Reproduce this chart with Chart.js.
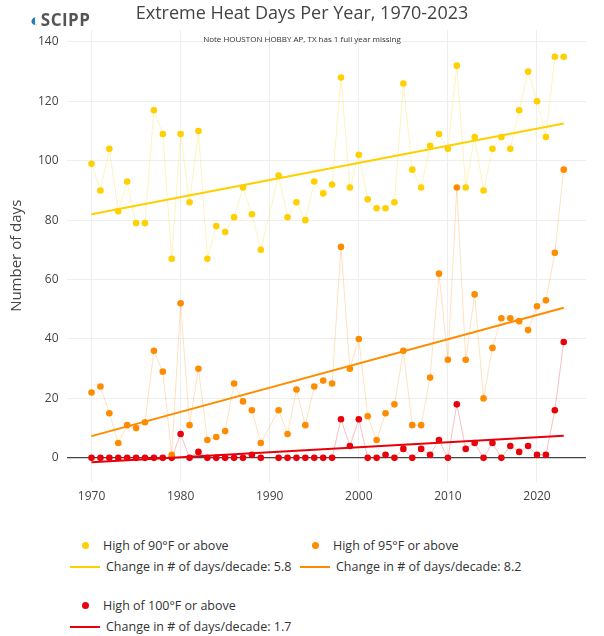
<!DOCTYPE html>
<html>
<head>
<meta charset="utf-8">
<script src="https://cdn.jsdelivr.net/npm/chart.js@4"></script>
<style>
  body { margin: 0; background: #fff; font-family: "Open Sans", sans-serif; }
  #wrap { position: relative; width: 604px; height: 512px; }
  #title { position: absolute; top: 0; left: 0; width: 604px; text-align: center; font-size: 18px; color: #444; }
  #note { position: absolute; top: 33px; left: 0; width: 604px; text-align: center; font-size: 8px; color: #333; }
  #logo { position: absolute; top: 8px; left: 30px; font-weight: bold; font-size: 17px; color: #555; letter-spacing: 0.5px; }
  #logo span { color: #2a7ab8; }
  .legend { position: absolute; font-size: 12.5px; color: #333; }
  .row { position: absolute; display: flex; align-items: center; white-space: nowrap; }
  .dot { width: 7px; height: 7px; border-radius: 50%; margin: 0 14px 0 12px; }
  .ln { width: 30px; height: 2px; margin-right: 6px; }
</style>
</head>
<body>
<div id="wrap">
  <canvas id="c" width="604" height="512"></canvas>
  <div id="logo"><span>◐</span>SCIPP</div>
  <div id="title">Extreme Heat Days Per Year, 1970-2023</div>
  <div id="note">Note HOUSTON HOBBY AP, TX has 1 full year missing</div>
</div>
<div id="legend" style="position:relative;width:604px;height:124px;"></div>
<script>
const years = [];
for (let y = 1970; y <= 2023; y++) if (y !== 1990) years.push(y);

const above90 = [99,90,104,83,93,79,79,117,109,67,109,86,110,67,78,76,81,91,82,70,
  95,81,86,80,93,89,92,128,91,102,87,84,84,86,126,97,91,105,109,104,132,91,108,90,104,108,104,117,130,120,108,135,135];
const above95 = [22,24,15,5,11,10,12,36,29,1,52,11,30,6,7,9,25,19,16,5,
  16,8,23,11,24,26,25,71,30,40,14,6,15,18,36,11,11,27,62,33,91,33,55,20,37,47,47,46,43,51,53,69,97];
const above100 = [0,0,0,0,0,0,0,0,0,0,8,0,2,0,0,0,0,0,1,0,
  0,0,0,0,0,0,0,13,4,13,0,0,1,0,3,0,3,1,6,0,18,3,5,0,5,0,4,2,4,1,1,16,39];

const trendYears = [1970, 2023];
const trend90 = [82, 112.5];
const trend95 = [7.3, 50.5];
const trend100 = [-1.5, 7.4];

const xTicks = [1970, 1980, 1990, 2000, 2010, 2020];

const names = ["High of 90°F or above", "High of 95°F or above", "High of 100°F or above"];
const slopes = ["5.8", "8.2", "1.7"];
const colors = ["#FFD000", "#FF8C00", "#E8000B"];
const faint = ["rgba(255,208,0,0.25)", "rgba(255,140,0,0.25)", "rgba(232,0,11,0.25)"];

const pts = (ys) => ys.map((v, i) => ({ x: years[i], y: v }));
const tr = (ys) => ys.map((v, i) => ({ x: trendYears[i], y: v }));

const datasets = [];
[above90, above95, above100].forEach((s, k) => {
  datasets.push({ data: pts(s), borderColor: faint[k], borderWidth: 1, backgroundColor: colors[k],
    pointBackgroundColor: colors[k], pointBorderWidth: 0, pointRadius: 3.3, showLine: true, order: 2 });
});
[trend90, trend95, trend100].forEach((s, k) => {
  datasets.push({ data: tr(s), borderColor: colors[k], borderWidth: 2, pointRadius: 0, showLine: true, order: 1 });
});

new Chart(document.getElementById("c"), {
  type: "scatter",
  data: { datasets },
  options: {
    responsive: false, animation: false,
    layout: { padding: { top: 30, right: 18, bottom: 0, left: 4 } },
    plugins: { legend: { display: false }, tooltip: { enabled: false } },
    scales: {
      x: { type: "linear", min: 1967.2, max: 2025.5,
        afterBuildTicks: (a) => { a.ticks = xTicks.map((v) => ({ value: v })); },
        grid: { color: "#eee", drawTicks: false }, border: { display: false },
        ticks: { color: "#444", font: { size: 12, family: "Open Sans" }, padding: 8, callback: (v) => String(v) } },
      y: { min: -8, max: 144,
        afterBuildTicks: (a) => { a.ticks = [0,20,40,60,80,100,120,140].map((v) => ({ value: v })); },
        grid: { color: (c) => c.tick.value === 0 ? "#444" : "#eee", drawTicks: false, lineWidth: (c) => c.tick.value === 0 ? 1.3 : 1 },
        border: { display: false },
        title: { display: true, text: "Number of days", color: "#444", font: { size: 15, family: "Open Sans" } },
        ticks: { color: "#444", font: { size: 12, family: "Open Sans" }, padding: 8 } }
    }
  }
});

const leg = document.getElementById("legend");
const pos = [[70, 25], [300, 25], [70, 85]];
pos.forEach(([x, y], k) => {
  leg.insertAdjacentHTML("beforeend",
    `<div class="row legend" style="left:${x}px;top:${y}px"><div class="dot" style="background:${colors[k]}"></div>${names[k]}</div>` +
    `<div class="row legend" style="left:${x}px;top:${y + 21}px"><div class="ln" style="background:${colors[k]}"></div>Change in # of days/decade: ${slopes[k]}</div>`);
});
</script>
</body>
</html>
